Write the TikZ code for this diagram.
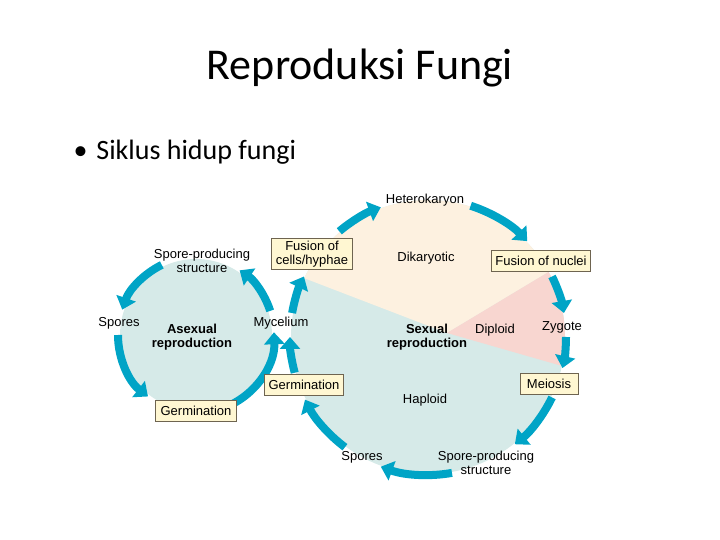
\documentclass[tikz,border=0pt]{standalone}
\usepackage{fontspec}
\setmainfont{Carlito}
\newfontfamily\labfont{Liberation Sans}
\usetikzlibrary{arrows.meta}
\definecolor{cyc}{RGB}{0,164,198}
\definecolor{haplo}{RGB}{214,234,232}
\definecolor{dikar}{RGB}{253,241,224}
\definecolor{diplo}{RGB}{248,214,208}
\definecolor{boxfill}{RGB}{255,247,210}
\definecolor{boxline}{RGB}{110,100,80}

\begin{document}
\begin{tikzpicture}[x=1pt, y=1pt,
    lab/.style={font=\labfont\fontsize{13}{13.5}\selectfont, align=center, inner sep=1pt},
    stage/.style={lab, draw=boxline, fill=boxfill, line width=0.8pt, inner xsep=4pt, inner ysep=3pt, minimum height=21pt},
    cycarrow/.style={draw=cyc, line width=8pt, -{Triangle[width=20pt, length=12pt]}}]
    \useasboundingbox (0,0) rectangle (720,540);

    % Titre
    \node (titre) at (360,472) {\fontsize{44}{50}\selectfont Reproduksi Fungi};
    \node[anchor=base west] (puce) at (70,380) {\fontsize{28}{32}\selectfont \textbullet\hspace{9pt}Siklus hidup fungi};

    % Les deux cycles
    \coordinate (asex) at (196,205);
    \coordinate (sex) at (428,203);
    \coordinate (apex) at (447,207);

    \fill[haplo] (asex) circle[radius=76];
    \fill[haplo] (sex) circle[radius=137];
    \begin{scope}
        \clip (sex) circle[radius=137];
        \fill[dikar] (apex) -- +(159:300) -- +(95:300) -- +(31:300) -- cycle;
        \fill[diplo] (apex) -- +(31:300) -- +(-16:300) -- cycle;
    \end{scope}

    % Fleches du cycle sexuel
    \foreach \a/\b in {130/110, 72/44, 26/10, 0/-13, -26/-51, -80/-110, -127/-153, 195/180, 170/154}
        \draw[cycarrow] ([shift={(sex)}]\a:138) arc[start angle=\a, end angle=\b, radius=138];

    % Fleches du cycle asexuel
    \foreach \a/\b in {18/56, 116/161, 180/232, -70/2}
        \draw[cycarrow] ([shift={(asex)}]\a:78) arc[start angle=\a, end angle=\b, radius=78];

    % Cycle sexuel
    \node[lab] (hetero) at (425,340) {Heterokaryon};
    \node[stage] (fuscell) at (312,286) {Fusion of\\cells/hyphae};
    \node[lab] (dikaryo) at (426,282) {Dikaryotic};
    \node[stage] (fusnucl) at (541,279) {Fusion of nuclei};
    \node[lab] (zygote) at (562,213) {Zygote};
    \node[lab] (diploid) at (495,210) {Diploid};
    \node[lab, font=\labfont\bfseries\fontsize{13}{13.5}\selectfont] (sexrep) at (427,203) {Sexual\\reproduction};
    \node[stage, minimum width=58pt] (meiosis) at (549,156) {Meiosis};
    \node[lab] (haploid) at (425,140) {Haploid};
    \node[lab] (sporestr) at (486,77) {Spore-producing\\structure};
    \node[lab] (spores) at (362,83) {Spores};
    \node[stage, minimum width=78pt] (germ) at (304,155) {Germination};
    \node[lab] (myc) at (281,217) {Mycelium};

    % Cycle asexuel
    \node[lab] (asporestr) at (202,279) {Spore-producing\\structure};
    \node[lab] (aspores) at (119,217) {Spores};
    \node[lab, font=\labfont\bfseries\fontsize{13}{13.5}\selectfont] (asexrep) at (192,203) {Asexual\\reproduction};
    \node[stage, minimum width=81pt] (agerm) at (196,129) {Germination};
\end{tikzpicture}
\end{document}
